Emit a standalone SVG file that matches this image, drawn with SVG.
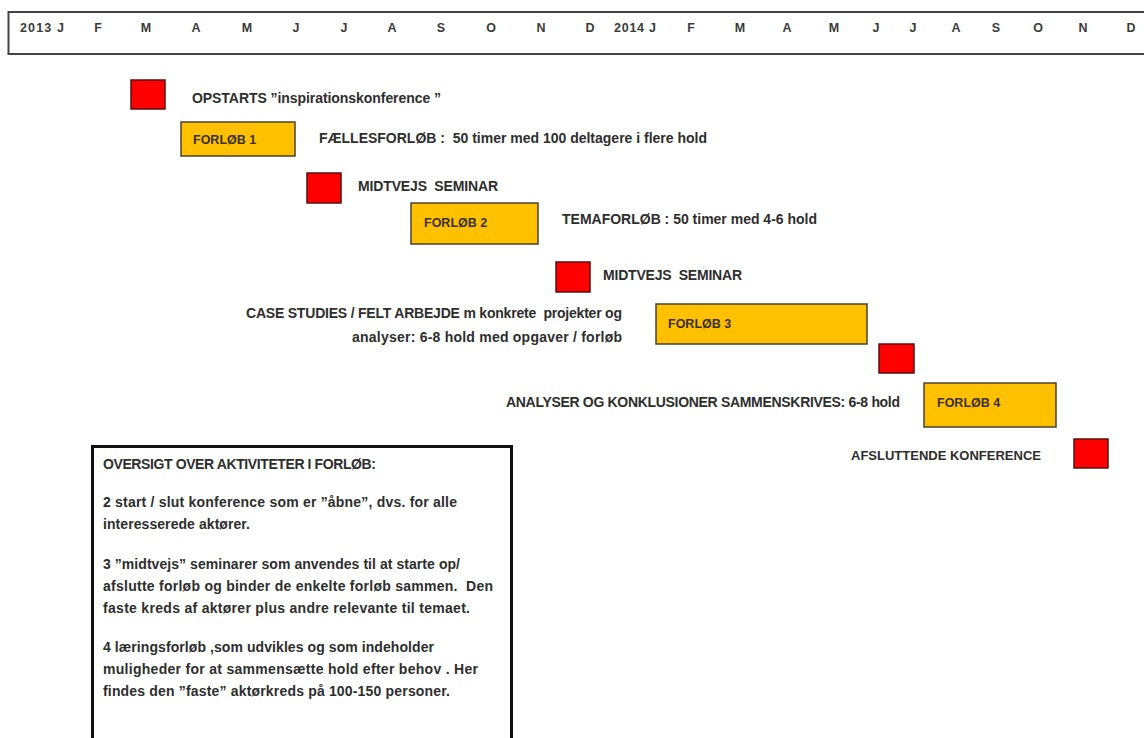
<svg xmlns="http://www.w3.org/2000/svg" width="1144" height="738" viewBox="0 0 1144 738">
<style>
text{font-family:"Liberation Sans",Arial,sans-serif;font-weight:bold;fill:#2e2e2e;white-space:pre}
.m{font-size:12.5px;fill:#3a3a3a;text-anchor:middle}
.y{font-size:12.5px;fill:#3a3a3a}
.t{font-size:14px}
.f{font-size:12.5px;fill:#3a3020}
.b{font-size:14px}
.red{fill:#ff0000;stroke:#5a0f0f;stroke-width:1.5}
.org{fill:#ffc000;stroke:#4a4030;stroke-width:1.5}
.r{text-anchor:end}
</style>
<rect width="1144" height="738" fill="#ffffff"/>
<g id="timeline">
<rect x="8.5" y="12" width="1150" height="42" fill="none" stroke="#444" stroke-width="2"/>
<text class="y" x="20" y="32" textLength="44">2013 J</text>
<text class="m" x="98" y="32">F</text>
<text class="m" x="146" y="32">M</text>
<text class="m" x="196" y="32">A</text>
<text class="m" x="247" y="32">M</text>
<text class="m" x="296" y="32">J</text>
<text class="m" x="344" y="32">J</text>
<text class="m" x="392" y="32">A</text>
<text class="m" x="441" y="32">S</text>
<text class="m" x="491" y="32">O</text>
<text class="m" x="541" y="32">N</text>
<text class="m" x="590" y="32">D</text>
<text class="y" x="614" y="32" textLength="42">2014 J</text>
<text class="m" x="691" y="32">F</text>
<text class="m" x="740" y="32">M</text>
<text class="m" x="787" y="32">A</text>
<text class="m" x="834" y="32">M</text>
<text class="m" x="876" y="32">J</text>
<text class="m" x="913" y="32">J</text>
<text class="m" x="956" y="32">A</text>
<text class="m" x="996" y="32">S</text>
<text class="m" x="1038" y="32">O</text>
<text class="m" x="1083" y="32">N</text>
<text class="m" x="1131" y="32">D</text>
</g>
<g id="connectors"></g>
<g id="opstart">
<rect class="red" x="131" y="80" width="34" height="29"/>
<text class="t" x="192" y="103" textLength="249">OPSTARTS ”inspirationskonference ”</text>
</g>
<g id="forloeb1">
<rect class="org" x="181" y="122" width="114" height="34"/>
<text class="f" x="193" y="144">FORLØB 1</text>
<text class="t" x="319" y="143" textLength="388">FÆLLESFORLØB :  50 timer med 100 deltagere i flere hold</text>
</g>
<g id="midtvejs1">
<rect class="red" x="307" y="173" width="34" height="30"/>
<text class="t" x="358" y="191" textLength="140">MIDTVEJS  SEMINAR</text>
</g>
<g id="forloeb2">
<rect class="org" x="411" y="203" width="127" height="41"/>
<text class="f" x="424" y="227">FORLØB 2</text>
<text class="t" x="562" y="224" textLength="255">TEMAFORLØB : 50 timer med 4-6 hold</text>
</g>
<g id="midtvejs2">
<rect class="red" x="556" y="262" width="34" height="30"/>
<text class="t" x="603" y="280" textLength="139">MIDTVEJS  SEMINAR</text>
</g>
<g id="forloeb3">
<rect class="org" x="656" y="304" width="211" height="40"/>
<text class="f" x="668" y="328">FORLØB 3</text>
<text class="t r" x="622" y="318" textLength="376">CASE STUDIES / FELT ARBEJDE m konkrete  projekter og</text>
<text class="t r" x="622" y="342" textLength="270">analyser: 6-8 hold med opgaver / forløb</text>
</g>
<g id="midtvejs3">
<rect class="red" x="879" y="344" width="35" height="29"/>
</g>
<g id="forloeb4">
<rect class="org" x="924" y="383" width="132" height="44"/>
<text class="f" x="937" y="407">FORLØB 4</text>
<text class="t r" x="900" y="407" textLength="394">ANALYSER OG KONKLUSIONER SAMMENSKRIVES: 6-8 hold</text>
</g>
<g id="afslutning">
<rect class="red" x="1074" y="439" width="34" height="29"/>
<text class="t" x="851" y="460" style="font-size:13px">AFSLUTTENDE KONFERENCE</text>
</g>
<g id="oversigt">
<rect x="92.5" y="446.5" width="419" height="310" fill="#fff" stroke="#111" stroke-width="3"/>
<text class="b" x="103" y="469" textLength="273">OVERSIGT OVER AKTIVITETER I FORLØB:</text>
<text class="b" x="103" y="507" textLength="354">2 start / slut konference som er ”åbne”, dvs. for alle</text>
<text class="b" x="103" y="529" textLength="147">interesserede aktører.</text>
<text class="b" x="103" y="569" textLength="357">3 ”midtvejs” seminarer som anvendes til at starte op/</text>
<text class="b" x="103" y="591" textLength="390">afslutte forløb og binder de enkelte forløb sammen.  Den</text>
<text class="b" x="103" y="613" textLength="367">faste kreds af aktører plus andre relevante til temaet.</text>
<text class="b" x="103" y="652" textLength="331">4 læringsforløb ,som udvikles og som indeholder</text>
<text class="b" x="103" y="674" textLength="375">muligheder for at sammensætte hold efter behov . Her</text>
<text class="b" x="103" y="696" textLength="347">findes den ”faste” aktørkreds på 100-150 personer.</text>
</g>
</svg>
